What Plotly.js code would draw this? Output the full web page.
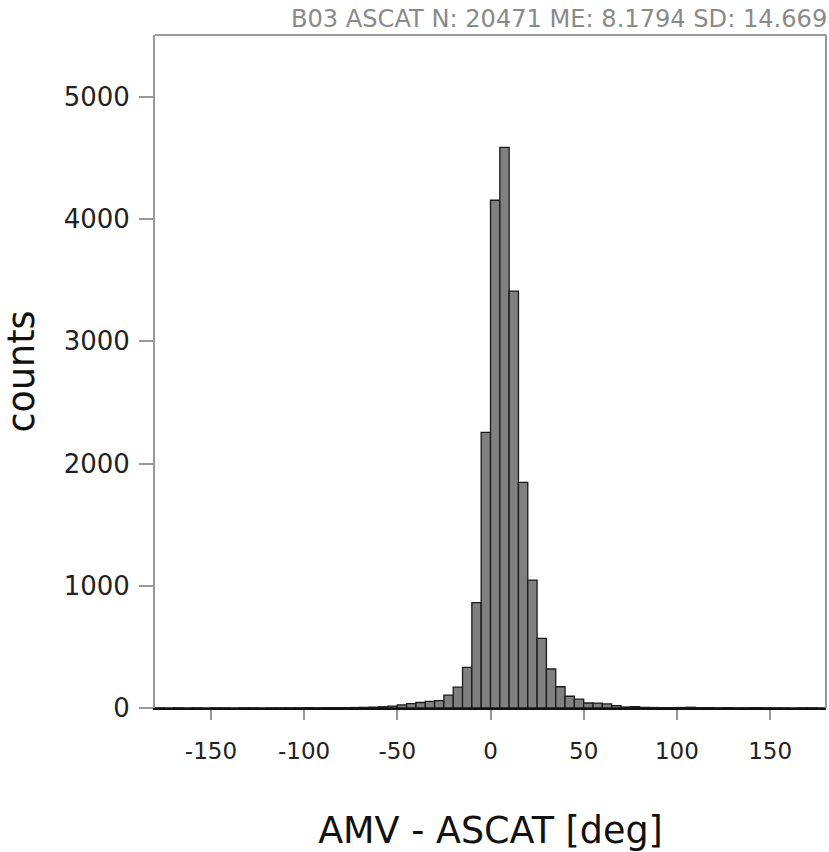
<!DOCTYPE html>
<html>
<head>
<meta charset="utf-8">
<script src="https://cdn.plot.ly/plotly-3.0.1.min.js"></script>
<style>html,body{margin:0;padding:0;background:#fff}#chart{width:829px;height:852px}</style>
</head>
<body>
<div id="chart"></div>
<script>
// Histogram bins: 5-degree bins from -180 to 180 (left edges)
const binStart = -180;
const binWidth = 5;
// counts per bin, left to right (-180..-175, ..., 175..180)
const counts = [
  2, 1, 2, 1, 2, 1, 2, 2, 1, 2, 2, 1,      // -180 .. -120
  2, 2, 2, 2, 3, 2, 3, 3, 3, 4, 5, 7,      // -120 .. -60
  10, 15, 25, 35, 45, 55, 60, 106, 170, 332, 862, 2256, // -60 .. 0
  4155, 4588, 3412, 1847, 1047, 570, 319, 174, 96, 72, 41, 40, // 0 .. 60
  33, 20, 8, 12, 5, 4, 3, 3, 4, 6, 3, 3,   // 60 .. 120
  2, 3, 2, 2, 3, 2, 2, 2, 1, 2, 2, 1       // 120 .. 180
];
const xTickVals = [-150, -100, -50, 0, 50, 100, 150];
const yTickVals = [0, 1000, 2000, 3000, 4000, 5000];
const titleText = "B03 ASCAT N: 20471 ME: 8.1794 SD: 14.669";
const xTitle = "AMV - ASCAT [deg]";
const yTitle = "counts";

const centers = counts.map((_, i) => binStart + binWidth * (i + 0.5));

const font = "DejaVu Sans, sans-serif";
const trace = {
  type: "bar",
  x: centers,
  y: counts,
  width: binWidth,
  marker: {color: "#808080", line: {color: "#1a1a1a", width: 1.3}},
  hoverinfo: "x+y"
};

const layout = {
  width: 829, height: 852,
  margin: {l: 155, r: 3, t: 35, b: 144},
  paper_bgcolor: "#fff", plot_bgcolor: "#fff",
  showlegend: false,
  bargap: 0,
  font: {family: font, color: "#222"},
  xaxis: {
    range: [-180, 180],
    tickvals: xTickVals,
    ticktext: xTickVals.map(String),
    ticks: "outside", ticklen: 10, tickwidth: 2, tickcolor: "#999",
    showgrid: false, zeroline: false,
    showline: true, linecolor: "#111", linewidth: 2,
    tickfont: {family: font, size: 23, color: "#222"},
    ticklabelstandoff: 11,
    title: {text: xTitle, font: {family: font, size: 36.5, color: "#111"}, standoff: 58}
  },
  yaxis: {
    range: [0, 5507],
    tickvals: yTickVals,
    ticktext: yTickVals.map(String),
    ticks: "outside", ticklen: 14, tickwidth: 2, tickcolor: "#999",
    showgrid: false, zeroline: false,
    showline: true, linecolor: "#999", linewidth: 2,
    tickfont: {family: font, size: 26, color: "#222"},
    ticklabelstandoff: 4,
    title: {text: yTitle, font: {family: font, size: 36.5, color: "#111"}, standoff: 18}
  },
  shapes: [
    {type: "line", xref: "paper", yref: "paper", x0: 0, x1: 1, y0: 1, y1: 1, line: {color: "#999", width: 2}},
    {type: "line", xref: "paper", yref: "paper", x0: 1, x1: 1, y0: 0, y1: 1, line: {color: "#999", width: 2}}
  ],
  annotations: [{
    text: titleText, xref: "paper", yref: "paper", x: 1.004, y: 1,
    xanchor: "right", yanchor: "bottom", yshift: 0, showarrow: false,
    font: {family: font, size: 24.1, color: "#8a8a8a"}
  }]
};

Plotly.newPlot("chart", [trace], layout, {displayModeBar: false, staticPlot: true});
</script>
</body>
</html>
